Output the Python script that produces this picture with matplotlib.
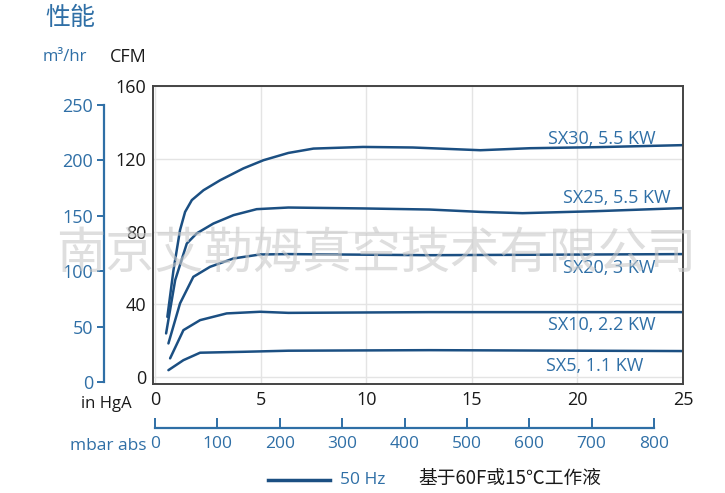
import numpy as np
import matplotlib.pyplot as plt

plt.rcParams['font.family'] = ['Open Sans', 'Noto Sans CJK SC', 'DejaVu Sans']

# CFM vs in HgA
sx30_x = [0.58, 0.87, 1.18, 1.42, 1.74, 2.29, 3.08, 4.18, 5.13, 6.31, 7.5, 9.85, 12.2, 15.4, 17.75, 21.0, 25.0]
sx30_y = [33.1, 58.8, 80.8, 90.8, 97.3, 102.7, 108.2, 114.7, 119.2, 123.2, 125.6, 126.5, 126.2, 124.7, 125.8, 126.4, 127.5]
sx25_x = [0.52, 0.95, 1.5, 1.97, 2.76, 3.71, 4.81, 6.31, 9.85, 13.0, 15.4, 17.4, 20.9, 25.0]
sx25_y = [24.0, 53.3, 73.4, 79.0, 84.4, 89.0, 92.3, 93.2, 92.7, 92.1, 90.8, 90.1, 91.2, 92.9]
sx20_x = [0.63, 1.18, 1.81, 2.6, 3.71, 4.97, 6.31, 13.0, 25.0]
sx20_y = [18.5, 40.5, 55.1, 60.6, 65.2, 67.4, 67.6, 67.0, 67.6]
sx10_x = [0.71, 1.34, 2.13, 3.39, 4.97, 6.31, 13.0, 25.0]
sx10_y = [10.3, 25.8, 31.3, 35.0, 35.9, 35.3, 35.7, 35.7]
sx5_x = [0.63, 1.34, 2.13, 4.18, 6.31, 13.0, 25.0]
sx5_y = [3.8, 9.3, 13.4, 13.9, 14.5, 14.8, 14.3]

series = [
    (sx30_x, sx30_y, 'SX30, 5.5 KW', 23.7, 131),
    (sx25_x, sx25_y, 'SX25, 5.5 KW', 24.4, 98.5),
    (sx20_x, sx20_y, 'SX20, 3 KW', 23.7, 60),
    (sx10_x, sx10_y, 'SX10, 2.2 KW', 23.7, 28.6),
    (sx5_x, sx5_y, 'SX5, 1.1 KW', 23.1, 6),
]

cfm_ticks = [0, 40, 80, 120, 160]
hga_ticks = [0, 5, 10, 15, 20, 25]
m3_ticks = [0, 50, 100, 150, 200, 250]
mbar_ticks = [0, 100, 200, 300, 400, 500, 600, 700, 800]

line_c = '#1b4f82'
blue_t = '#2f6fa6'
W, H = 725, 493

fig = plt.figure(figsize=(7.25, 4.93), dpi=100)

def box(l, t, r, b):
    return [l / W, 1 - b / H, (r - l) / W, (b - t) / H]

# main chart
ax = fig.add_axes(box(153, 86, 683, 384))
for x, y, name, lx, ly in series:
    ax.plot(x, y, color=line_c, lw=1.8, solid_joinstyle='round', solid_capstyle='round')
    ax.text(lx, ly, name, ha='right', va='center', color=blue_t, fontsize=13)
ax.set_xlim(-0.1, 25)
ax.set_ylim(-3.8, 160)
ax.set_xticks(hga_ticks)
ax.set_yticks(cfm_ticks)
ax.grid(True, color='#e4e4e4', lw=1)
ax.tick_params(length=0, labelsize=13, colors='#1a1a1a', pad=5)
for s in ax.spines.values():
    s.set_color('#444444')
    s.set_linewidth(1.4)

# m3/hr axis on the left
ax2 = fig.add_axes(box(104, 105, 105, 382))
ax2.set_ylim(0, 250)
ax2.set_yticks(m3_ticks)
ax2.set_xticks([])
for k in ['top', 'right', 'bottom']:
    ax2.spines[k].set_visible(False)
ax2.spines['left'].set_color(blue_t)
ax2.spines['left'].set_linewidth(1.6)
ax2.tick_params(axis='y', colors=blue_t, labelsize=13, length=5, width=1.4, pad=3)
ax2.patch.set_alpha(0)

# mbar abs axis at the bottom
ax3 = fig.add_axes(box(155, 427, 654, 428))
ax3.set_xlim(0, 800)
ax3.set_xticks(mbar_ticks)
ax3.set_yticks([])
for k in ['top', 'right', 'left']:
    ax3.spines[k].set_visible(False)
ax3.spines['bottom'].set_color(blue_t)
ax3.spines['bottom'].set_linewidth(1.6)
ax3.tick_params(axis='x', colors=blue_t, labelsize=12.5, direction='in', length=7, width=1.4, pad=6)
ax3.patch.set_alpha(0)

# labels
fig.text(45 / W, 1 - 18 / H, '性能', color=blue_t, fontsize=18, va='center', ha='left',
         family=['Noto Sans CJK SC'])
fig.text(43 / W, 1 - 57 / H, 'm³/hr', color=blue_t, fontsize=12, va='center', ha='left')
fig.text(110 / W, 1 - 57 / H, 'CFM', color='#1a1a1a', fontsize=13, va='center', ha='left')
fig.text(132 / W, 1 - 404 / H, 'in HgA', color='#1a1a1a', fontsize=12, va='center', ha='right')
fig.text(146 / W, 1 - 446 / H, 'mbar abs', color=blue_t, fontsize=12.5, va='center', ha='right')

# legend
fig.add_artist(plt.Line2D([268 / W, 330 / W], [1 - 480 / H, 1 - 480 / H], color=line_c, lw=2.5))
fig.text(340 / W, 1 - 480 / H, '50 Hz', color=blue_t, fontsize=12.5, va='center', ha='left')
fig.text(418 / W, 1 - 478 / H, '基于60F或15℃工作液', color='#1a1a1a', fontsize=13.5, va='center', ha='left',
         family=['Noto Sans CJK SC', 'DejaVu Sans'])

# watermark
fig.text(376 / W, 1 - 254 / H, '南京艾勒姆真空技术有限公司', color='#c8c8c8', alpha=0.6, fontsize=35.5,
         va='center', ha='center', family=['Noto Sans CJK SC'], zorder=0)

fig.savefig('out.png', dpi=100)
